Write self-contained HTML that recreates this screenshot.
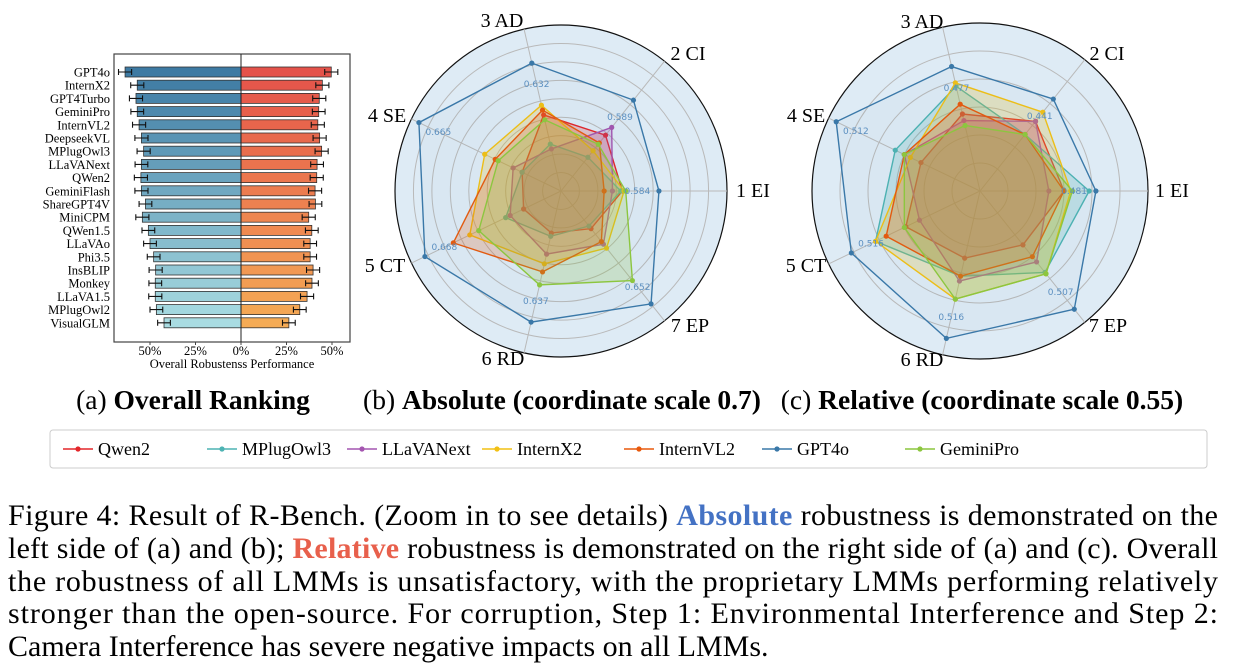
<!DOCTYPE html>
<html><head><meta charset="utf-8"><style>
body{margin:0;background:#fff;}
svg{display:block;font-family:"Liberation Serif",serif;}
</style></head><body>
<svg id="s" width="1234" height="666" viewBox="0 0 1234 666">
<g id="bar"></g>
<g id="radarB"></g>
<g id="radarC"></g>
<text x="193" y="409" font-size="27.5" text-anchor="middle">(a) <tspan font-weight="bold">Overall Ranking</tspan></text>
<text x="562" y="409" font-size="27.5" text-anchor="middle">(b) <tspan font-weight="bold">Absolute (coordinate scale 0.7)</tspan></text>
<text x="982" y="409" font-size="27.5" text-anchor="middle">(c) <tspan font-weight="bold">Relative (coordinate scale 0.55)</tspan></text>
<rect x="50" y="430" width="1157" height="38" fill="#fff" stroke="#ccc" rx="3"/>
<g id="legend"></g>
<g font-size="30">
<text x="8" y="525" textLength="1210" lengthAdjust="spacing">Figure 4: Result of R-Bench. (Zoom in to see details) <tspan font-weight="bold" fill="#4472c4">Absolute</tspan> robustness is demonstrated on the</text>
<text x="8" y="558" textLength="1210" lengthAdjust="spacing">left side of (a) and (b); <tspan font-weight="bold" fill="#e8604c">Relative</tspan> robustness is demonstrated on the right side of (a) and (c). Overall</text>
<text x="8" y="591" textLength="1210" lengthAdjust="spacing">the robustness of all LMMs is unsatisfactory, with the proprietary LMMs performing relatively</text>
<text x="8" y="623" textLength="1210" lengthAdjust="spacing">stronger than the open-source.  For corruption, Step 1: Environmental Interference and Step 2:</text>
<text x="8" y="656">Camera Interference has severe negative impacts on all LMMs.</text>
</g>
</svg>
<script>
const models=["GPT4o","InternX2","GPT4Turbo","GeminiPro","InternVL2","DeepseekVL","MPlugOwl3","LLaVANext","QWen2","GeminiFlash","ShareGPT4V","MiniCPM","QWen1.5","LLaVAo","Phi3.5","InsBLIP","Monkey","LLaVA1.5","MPlugOwl2","VisualGLM"];
const absVals=[63.7,57,57.7,57,56,54.7,53.5,54.7,55,54.7,52.5,54.2,50.9,50,48,46.9,47.1,47.1,46.5,42.3];
const relVals=[49.6,44.7,43,42.7,42.2,43.2,44.3,41.8,41.6,40.7,40.9,37.2,38.9,38,38,39.6,39,36.3,32.3,26.3];
const errVals=[3.6,3.6,3.6,3.5,3.6,3.6,3.6,3.5,3.6,3.6,3.5,3.6,3.5,3.5,3.5,3.6,3.5,3.6,3.5,3.5];
const tickVals=[-50,-25,0,25,50];
const tickLabels=["50%","25%","0%","25%","50%"];
const axes=["1 EI","2 CI","3 AD","4 SE","5 CT","6 RD","7 EP"];
const seriesNames=["Qwen2","MPlugOwl3","LLaVANext","InternX2","InternVL2","GPT4o","GeminiPro"];
const seriesColors=["#e3262a","#4db3b3","#a455b0","#f2c014","#e8590c","#3a78a8","#8cc63f"];
const absQwen2=[0.37,0.43,0.47,0.26,0.25,0.26,0.29];
const absMPlugOwl3=[0.36,0.26,0.29,0.26,0.37,0.28,0.27];
const absLLaVANext=[0.31,0.49,0.26,0.32,0.34,0.39,0.41];
const absInternX2=[0.38,0.31,0.53,0.51,0.61,0.45,0.44];
const absInternVL2=[0.26,0.37,0.50,0.44,0.72,0.50,0.39];
const absGPT4o=[0.59,0.70,0.79,0.95,0.91,0.81,0.87];
const absGeminiPro=[0.39,0.36,0.44,0.42,0.55,0.58,0.69];
const absLabels=["0.584","0.589","0.632","0.665","0.668","0.637","0.652"];
const relQwen2=[0.50,0.53,0.47,0.39,0.49,0.41,0.41];
const relMPlugOwl3=[0.65,0.43,0.64,0.56,0.69,0.52,0.62];
const relLLaVANext=[0.41,0.53,0.43,0.50,0.40,0.55,0.54];
const relInternX2=[0.54,0.60,0.66,0.46,0.69,0.66,0.63];
const relInternVL2=[0.50,0.43,0.53,0.50,0.62,0.52,0.50];
const relGPT4o=[0.69,0.70,0.76,0.95,0.85,0.90,0.90];
const relGeminiPro=[0.55,0.43,0.40,0.50,0.50,0.66,0.63];
const relLabels=["0.481","0.441","0.477","0.512","0.516","0.516","0.507"];

const NS="http://www.w3.org/2000/svg";
function mk(p,t,a,txt){const e=document.createElementNS(NS,t);for(const k in a)e.setAttribute(k,a[k]);if(txt!=null)e.textContent=txt;p.appendChild(e);return e;}
function lerp(c1,c2,t){const a=[1,3,5].map(i=>parseInt(c1.substr(i,2),16)),b=[1,3,5].map(i=>parseInt(c2.substr(i,2),16));return "rgb("+a.map((v,i)=>Math.round(v+(b[i]-v)*t)).join(",")+")";}

const bar=document.getElementById('bar');
const X0=241,PX=91/50,yTop=72,step=13.2,bh=10;
const xs=v=>X0+v*PX;
const frame=mk(bar,'rect',{x:114,y:54,width:236,height:288,fill:'#fff',stroke:'#444','stroke-width':1.2});


models.forEach((m,i)=>{
 const y=yTop+i*step, t=i/(models.length-1);
 const l=mk(bar,'rect',{x:xs(-absVals[i]),y:y-bh/2,width:absVals[i]*PX,height:bh,fill:lerp('#3d7aa3','#a9dce2',t),stroke:'#333','stroke-width':0.8});
 
 
 const r=mk(bar,'rect',{x:X0,y:y-bh/2,width:relVals[i]*PX,height:bh,fill:lerp('#e4524a','#f5ab55',t),stroke:'#333','stroke-width':0.8});
 
 
 [-absVals[i],relVals[i]].forEach(v=>{
  const e=errVals[i];
  const g=mk(bar,'path',{d:`M${xs(v-e)},${y}H${xs(v+e)}M${xs(v-e)},${y-3}v6M${xs(v+e)},${y-3}v6`,stroke:'#111','stroke-width':1.1,fill:'none'});
  
  
 });
 const lb=mk(bar,'text',{x:110,y:y+4.5,'font-size':12.5,'text-anchor':'end'},m);
 
 
});
mk(bar,'line',{x1:X0,x2:X0,y1:54,y2:342,stroke:'#222','stroke-width':1});
tickVals.forEach((v,i)=>{
 mk(bar,'line',{x1:xs(v),x2:xs(v),y1:342,y2:345,stroke:'#444'});
 const t=mk(bar,'text',{x:xs(v),y:355,'font-size':12.5,'text-anchor':'middle'},tickLabels[i]);
 
 
});
const xt=mk(bar,'text',{x:232,y:368,'font-size':12.5,'text-anchor':'middle'},'Overall Robustenss Performance');



function radar(id,cx,cy,R,rings,data,labels,labelPos){
 const g=document.getElementById(id);
 mk(g,'circle',{cx,cy,r:R,fill:'#deebf5',stroke:'#111','stroke-width':1.2});
 for(let k=1;k<rings;k++)mk(g,'circle',{cx,cy,r:R*k/rings,fill:'none',stroke:'#b9b9b9','stroke-width':1});
 const ang=i=>i*2*Math.PI/7;
 const pt=(i,v)=>[cx+Math.cos(ang(i))*v*R,cy-Math.sin(ang(i))*v*R];
 axes.forEach((a,i)=>{
  const [x,y]=pt(i,1);
  mk(g,'line',{x1:cx,y1:cy,x2:x,y2:y,stroke:'#b9b9b9','stroke-width':1});
  const t=mk(g,'text',{x:labelPos[i][0],y:labelPos[i][1]+7,'font-size':20,'text-anchor':'middle'},a);
  
  
 });
 data.forEach((vals,s)=>{
  const col=seriesColors[s];
  const pts=vals.map((v,i)=>pt(i,v).join(',')).join(' ');
  const p=mk(g,'polygon',{points:pts,fill:col,'fill-opacity':s==5?0.03:0.22,stroke:col,'stroke-width':1.4});
  
  
  vals.forEach((v,i)=>{const [x,y]=pt(i,v);
   const c=mk(g,'circle',{cx:x,cy:y,r:2.6,fill:col});
   
   });
 });
 const blue=data[5];
 labels.forEach((l,i)=>{const [x,y]=pt(i,blue[i]-0.13);
  const t=mk(g,'text',{x,y:y+3,'font-size':9,'text-anchor':'middle',fill:'#5b8fc0','font-family':'DejaVu Sans, sans-serif'},l);
  
  });
}
radar('radarB',561,191,166,9,[absQwen2,absMPlugOwl3,absLLaVANext,absInternX2,absInternVL2,absGPT4o,absGeminiPro],absLabels,
 [[753,190],[688,53],[502,20],[387,115],[385,265],[503,358],[690,325]]);
radar('radarC',980,191,168,6,[relQwen2,relMPlugOwl3,relLLaVANext,relInternX2,relInternVL2,relGPT4o,relGeminiPro],relLabels,
 [[1172,190],[1107,53],[922,21],[806,115],[806,265],[922,359],[1108,325]]);

const lg=document.getElementById('legend');
const lx=[63,207,347,482,624,762,905];
seriesNames.forEach((n,i)=>{
 const x=lx[i];
 mk(lg,'line',{x1:x,x2:x+30,y1:449,y2:449,stroke:seriesColors[i],'stroke-width':1.5});
 mk(lg,'circle',{cx:x+15,cy:449,r:2.6,fill:seriesColors[i]});
 const t=mk(lg,'text',{x:x+35,y:455,'font-size':18},n);
 
 
});
</script>
</body></html>
